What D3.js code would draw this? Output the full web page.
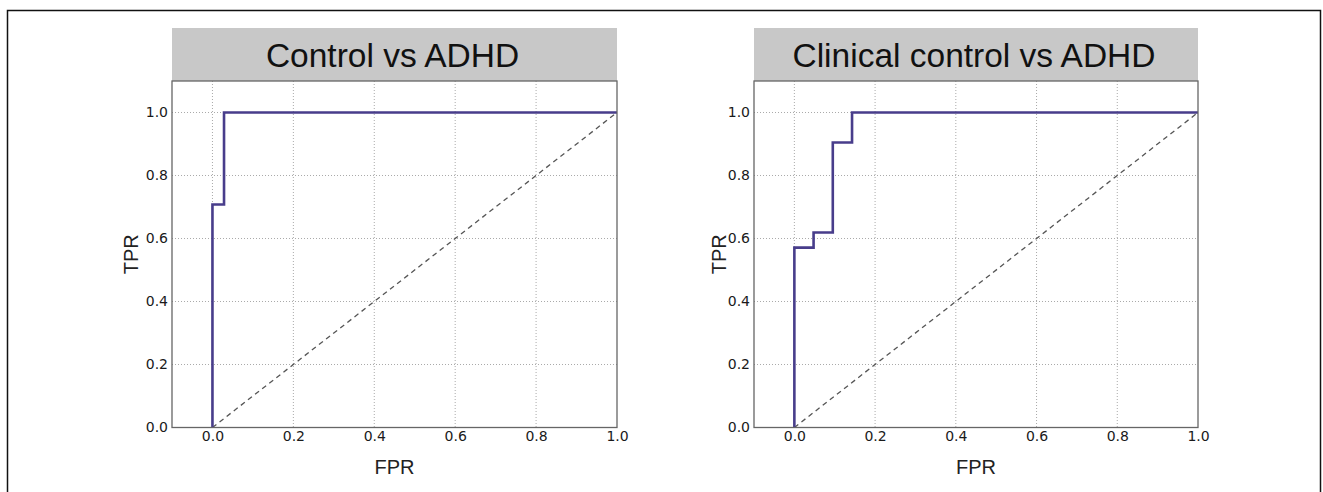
<!DOCTYPE html>
<html>
<head>
<meta charset="utf-8">
<script src="https://cdn.jsdelivr.net/npm/d3@7"></script>
<style>
  body { margin: 0; background: #fff; }
</style>
</head>
<body>
<div id="chart"></div>
<script>
// ROC curves
const panelTitles = ["Control vs ADHD", "Clinical control vs ADHD"];
const fprControl = [0, 0, 0.0286, 0.0286, 1];
const tprControl = [0, 0.708, 0.708, 1, 1];
const fprClinical = [0, 0, 0.0476, 0.0476, 0.0952, 0.0952, 0.1429, 0.1429, 1];
const tprClinical = [0, 0.571, 0.571, 0.619, 0.619, 0.905, 0.905, 1, 1];
const tickValues = [0, 0.2, 0.4, 0.6, 0.8, 1.0];
const chanceLine = [0, 1];

const W = 1323, H = 492;
const svg = d3.select("#chart").append("svg")
  .attr("width", W).attr("height", H);

// outer frame (bottom edge runs off the image)
svg.append("rect")
  .attr("x", 7.5).attr("y", 10.5)
  .attr("width", 1313).attr("height", 500)
  .attr("fill", "none").attr("stroke", "#111").attr("stroke-width", 1.5);

const panels = [
  { title: panelTitles[0], fpr: fprControl, tpr: tprControl, left: 172, right: 617, labelGap: 34 },
  { title: panelTitles[1], fpr: fprClinical, tpr: tprClinical, left: 754, right: 1198, labelGap: 28 },
];

const plotTop = 81, plotBottom = 427.5;

panels.forEach((p) => {
  const x = d3.scaleLinear().domain([-0.1, 1.0]).range([p.left, p.right]);
  const y = d3.scaleLinear().domain([0, 1.1]).range([plotBottom, plotTop]);
  const g = svg.append("g");

  // title strip
  g.append("rect")
    .attr("x", p.left).attr("y", 28)
    .attr("width", p.right - p.left).attr("height", plotTop - 28)
    .attr("fill", "#c8c8c8");
  g.append("text")
    .attr("x", (p.left + p.right) / 2 - 2).attr("y", 67)
    .attr("text-anchor", "middle")
    .attr("font-family", "Liberation Sans, Arial, sans-serif")
    .attr("font-size", 33.5)
    .attr("fill", "#111")
    .text(p.title);

  // grid
  g.append("g")
    .selectAll("line")
    .data(tickValues.filter((d) => d < 1))
    .join("line")
    .attr("x1", (d) => x(d)).attr("x2", (d) => x(d))
    .attr("y1", plotTop).attr("y2", plotBottom)
    .attr("stroke", "#aaa").attr("stroke-dasharray", "1,2");
  g.append("g")
    .selectAll("line")
    .data(tickValues.filter((d) => d > 0))
    .join("line")
    .attr("x1", p.left).attr("x2", p.right)
    .attr("y1", (d) => y(d)).attr("y2", (d) => y(d))
    .attr("stroke", "#aaa").attr("stroke-dasharray", "1,2");

  // chance diagonal
  g.append("path")
    .attr("d", d3.line().x((d) => x(d)).y((d) => y(d))(chanceLine))
    .attr("fill", "none")
    .attr("stroke", "#555").attr("stroke-width", 1.3)
    .attr("stroke-dasharray", "5,4");

  // ROC curve
  const pts = p.fpr.map((f, i) => [f, p.tpr[i]]);
  g.append("path")
    .attr("d", d3.line().x((d) => x(d[0])).y((d) => y(d[1]))(pts))
    .attr("fill", "none")
    .attr("stroke", "#483d8b").attr("stroke-width", 2.6);

  // axes
  const xAxis = g.append("g")
    .attr("transform", `translate(0,${plotBottom})`)
    .call(d3.axisBottom(x).tickValues(tickValues).tickFormat(d3.format(".1f")).tickSize(0).tickPadding(4));
  const yAxis = g.append("g")
    .attr("transform", `translate(${p.left},0)`)
    .call(d3.axisLeft(y).tickValues(tickValues).tickFormat(d3.format(".1f")).tickSize(0).tickPadding(4));
  [xAxis, yAxis].forEach((a) => {
    a.select(".domain").remove();
    a.selectAll("text")
      .attr("font-family", "DejaVu Sans, sans-serif")
      .attr("font-size", 14)
      .attr("fill", "#1a1a1a");
  });

  // frame
  g.append("rect")
    .attr("x", p.left).attr("y", plotTop)
    .attr("width", p.right - p.left).attr("height", plotBottom - plotTop)
    .attr("fill", "none").attr("stroke", "#666").attr("stroke-width", 1.3);

  // axis labels
  g.append("text")
    .attr("x", (p.left + p.right) / 2).attr("y", 474)
    .attr("text-anchor", "middle")
    .attr("font-family", "Liberation Sans, Arial, sans-serif")
    .attr("font-size", 20).attr("fill", "#222")
    .text("FPR");
  g.append("text")
    .attr("transform", `translate(${p.left - p.labelGap},${(plotTop + plotBottom) / 2}) rotate(-90)`)
    .attr("text-anchor", "middle")
    .attr("font-family", "Liberation Sans, Arial, sans-serif")
    .attr("font-size", 20).attr("fill", "#222")
    .text("TPR");
});
</script>
</body>
</html>
